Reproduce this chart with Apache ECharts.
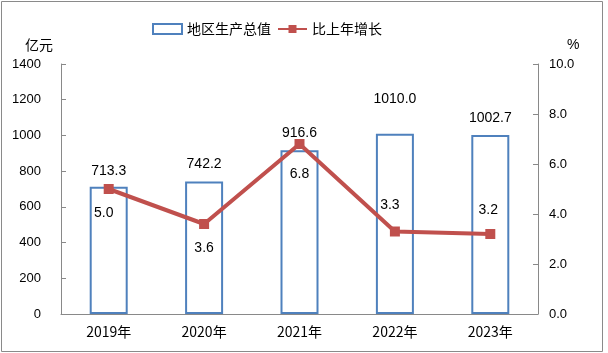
<!DOCTYPE html>
<html><head><meta charset="utf-8">
<script src="https://cdn.jsdelivr.net/npm/echarts@6/dist/echarts.min.js"></script>
<style>html,body{margin:0;padding:0;background:#fff}#c{width:608px;height:353px}</style>
</head><body><div id="c"></div>
<script>
const categories = ['2019年','2020年','2021年','2022年','2023年'];
const gdpValues = [713.3, 742.2, 916.6, 1010.0, 1002.7];
const growthValues = [5.0, 3.6, 6.8, 3.3, 3.2];
const leftTicks = [0, 200, 400, 600, 800, 1000, 1200, 1400];
const rightTicks = [0, 2, 4, 6, 8, 10];
const seriesNames = ['地区生产总值', '比上年增长'];

const numFont = '"Liberation Sans", Arial, sans-serif';
const cjkFont = '"Noto Sans CJK SC", "Liberation Sans", sans-serif';

// label placement tweaks per point (styling only)
const barLabelDist = [8, 10, 10, 28, 10];
const lineLabelPos = ['bottom','bottom','bottom','top','top'];
const lineLabelOffset = [[-5,4],[0,4],[0,10],[-5,-6],[-2,-4]];

const chart = echarts.init(document.getElementById('c'), null, {renderer:'canvas'});
chart.setOption({
  animation: false,
  textStyle: {fontFamily: numFont, color: '#000'},
  graphic: [{type:'rect', shape:{x:1.5,y:1.5,width:601,height:350}, style:{fill:'none', stroke:'#8a8a8a', lineWidth:1}, silent:true}],
  legend: {
    top: 17, left: 147, itemGap: 6,
    textStyle: {fontFamily: cjkFont, fontSize: 14, color:'#000'},
    data: [
      {name: seriesNames[0], icon: 'rect', itemStyle:{color:'#fff', borderColor:'#4F81BD', borderWidth:2}},
      {name: seriesNames[1]}
    ],
    itemWidth: 29, itemHeight: 10
  },
  grid: {left: 61, right: 70, top: 64, bottom: 39},
  xAxis: {
    type: 'category', data: categories, boundaryGap: true,
    axisLine: {lineStyle:{color:'#898989', width:1}},
    axisTick: {inside: true, length: 6, lineStyle:{color:'#898989'}},
    axisLabel: {fontFamily: cjkFont, fontSize: 14, color:'#000', margin: 11}
  },
  yAxis: [
    {type:'value', min: leftTicks[0], max: leftTicks[leftTicks.length-1], interval: 200,
     name: '亿元', nameLocation:'end', nameGap: 12,
     nameTextStyle: {fontFamily: cjkFont, fontSize: 14, color:'#000', align:'right', padding:[0,8,0,0]},
     axisLine:{show:true, lineStyle:{color:'#898989'}},
     axisTick:{show:true, inside:true, length:5, lineStyle:{color:'#898989'}},
     splitLine:{show:false},
     axisLabel:{fontSize:13, color:'#000', margin: 20, formatter: v => String(v)}},
    {type:'value', min: rightTicks[0], max: rightTicks[rightTicks.length-1], interval: 2,
     name: '%', nameLocation:'end', nameGap: 12,
     nameTextStyle: {fontFamily: numFont, fontSize: 14, color:'#000', align:'left', padding:[0,0,0,29]},
     axisLine:{show:true, lineStyle:{color:'#898989'}},
     axisTick:{show:true, inside:true, length:5, lineStyle:{color:'#898989'}},
     splitLine:{show:false},
     axisLabel:{fontSize:13, color:'#000', margin: 11, formatter: v => v.toFixed(1)}}
  ],
  series: [
    {
      name: seriesNames[0], type: 'bar', yAxisIndex: 0, barWidth: 38,
      itemStyle: {color:'#fff', borderColor:'#4F81BD', borderWidth: 2},
      data: gdpValues.map((v,i) => ({value: v, label: {distance: barLabelDist[i]}})),
      label: {show:true, position:'top', fontSize:14, color:'#000', formatter: p => p.value.toFixed(1)}
    },
    {
      name: seriesNames[1], type: 'line', yAxisIndex: 1,
      symbol: 'rect', symbolSize: 10,
      lineStyle: {color:'#C0504D', width: 4},
      itemStyle: {color:'#C0504D'},
      data: growthValues.map((v,i) => ({value: v, label: {position: lineLabelPos[i], offset: lineLabelOffset[i]}})),
      label: {show:true, fontSize:14, color:'#000', distance: 8, formatter: p => p.value.toFixed(1)},
      z: 5
    }
  ]
});
</script></body></html>
